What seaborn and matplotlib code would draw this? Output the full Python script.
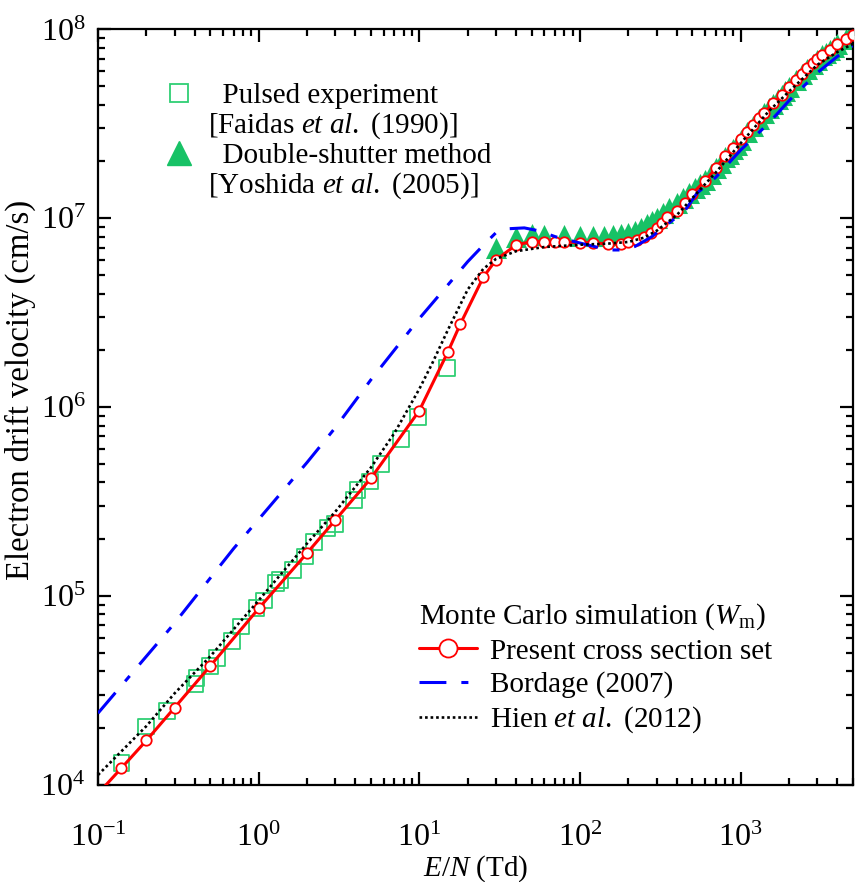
import matplotlib
matplotlib.use("Agg")
import matplotlib.pyplot as plt
import numpy as np
import pandas as pd
import seaborn as sns
from matplotlib.lines import Line2D
from matplotlib.ticker import LogLocator, LogFormatterMathtext, NullFormatter

# ---------------------------------------------------------------------------
# Electron drift velocity vs reduced field E/N
# ---------------------------------------------------------------------------

# Monte Carlo, present cross section set (red line with open circles)
present_en = [0.1, 0.14, 0.2, 0.3, 0.5, 1, 2, 3, 5, 10, 15, 18, 25, 30, 40, 50,
              60, 70, 80, 100, 120, 150, 180, 200, 225, 250, 275, 300, 325, 350,
              400, 450, 500, 600, 700, 800, 900, 1000, 1100, 1200, 1300, 1400,
              1600, 1800, 2000, 2200, 2400, 2600, 2800, 3000, 3200, 3600, 4000,
              4500, 5000]
present_w = [9.0e3, 1.23e4, 1.72e4, 2.57e4, 4.27e4, 8.6e4, 1.69e5, 2.53e5, 4.21e5,
             9.6e5, 1.95e6, 2.76e6, 4.88e6, 6.03e6, 7.23e6, 7.53e6, 7.53e6, 7.5e6,
             7.5e6, 7.43e6, 7.43e6, 7.31e6, 7.31e6, 7.46e6, 7.69e6, 7.95e6, 8.34e6,
             8.87e6, 9.5e6, 1.02e7, 1.10e7, 1.21e7, 1.35e7, 1.58e7, 1.84e7, 2.14e7,
             2.37e7, 2.62e7, 2.88e7, 3.12e7, 3.39e7, 3.63e7, 4.07e7, 4.50e7, 4.98e7,
             5.40e7, 5.81e7, 6.24e7, 6.63e7, 6.95e7, 7.33e7, 7.79e7, 8.38e7, 8.87e7,
             9.35e7]

# Monte Carlo, Bordage (2007) cross sections
bordage_en = [0.1, 0.3, 0.7, 1, 2, 3, 5, 10, 20, 25, 30, 35, 45, 55, 70, 100, 150,
              180, 220, 280, 350, 450, 535, 700, 1000, 1500, 2000, 3000, 4000, 5000]
bordage_w = [2.4e4, 7.2e4, 1.79e5, 2.55e5, 5.1e5, 7.8e5, 1.4e6, 2.95e6, 5.9e6,
             7.2e6, 8.4e6, 8.8e6, 8.9e6, 8.6e6, 8.0e6, 7.4e6, 6.8e6, 6.8e6, 7.1e6,
             8.0e6, 9.3e6, 1.1e7, 1.36e7, 1.65e7, 2.3e7, 3.2e7, 4.2e7, 5.9e7, 7.2e7,
             8.2e7]

# Monte Carlo, Hien et al. (2012) cross sections
hien_en = [0.1, 0.2, 0.3, 0.5, 1, 2, 3, 5, 7, 10, 12, 15, 20, 25, 30, 40, 60, 100,
           150, 200, 250, 300, 400, 500, 700, 1000, 1500, 2000, 3000, 4000, 5000]
hien_w = [1.13e4, 2.05e4, 3.06e4, 4.8e4, 9.5e4, 1.9e5, 2.8e5, 4.8e5, 7.3e5,
          1.25e6, 1.7e6, 2.55e6, 4.2e6, 5.4e6, 6.1e6, 6.7e6, 7.05e6, 7.25e6,
          7.35e6, 7.5e6, 7.9e6, 8.6e6, 1.04e7, 1.28e7, 1.75e7, 2.5e7, 3.7e7,
          4.7e7, 6.5e7, 7.6e7, 8.4e7]

# Pulsed experiment, Faidas et al. (1990)
faidas_en = [0.14, 0.2, 0.27, 0.4, 0.41, 0.5, 0.55, 0.68, 0.78, 0.97, 1.08, 1.28,
             1.35, 1.63, 1.95, 2.2, 2.68, 3.0, 3.93, 4.12, 4.92, 5.8, 7.66, 9.8,
             14.9]
faidas_w = [1.31e4, 2.04e4, 2.47e4, 3.43e4, 3.67e4, 4.26e4, 4.69e4, 5.8e4, 6.9e4,
            8.63e4, 9.47e4, 1.17e5, 1.22e5, 1.38e5, 1.62e5, 1.94e5, 2.29e5,
            2.41e5, 3.23e5, 3.65e5, 4.04e5, 5.0e5, 6.78e5, 8.86e5, 1.61e6]

# Double-shutter method, Yoshida et al. (2005)
yoshida_en = [30, 40, 50, 60, 80, 100, 120, 140, 160, 180, 200, 220, 240, 260, 280,
              300, 330, 360, 400, 440, 480, 520, 560, 600, 650, 700, 750, 800, 850,
              900, 950, 1000, 1100, 1200, 1300, 1400, 1500, 1600, 1700, 1800, 1900,
              2000, 2200, 2400, 2600, 2800, 3000, 3200, 3400, 3600, 3800, 4000,
              4500, 5000]
yoshida_w = [7.0e6, 8.0e6, 8.3e6, 8.2e6, 8.2e6, 8.1e6, 8.1e6, 8.1e6, 8.2e6, 8.3e6,
             8.4e6, 8.6e6, 8.9e6, 9.3e6, 9.7e6, 1.0e7, 1.07e7, 1.13e7, 1.2e7,
             1.28e7, 1.36e7, 1.44e7, 1.52e7, 1.60e7, 1.72e7, 1.84e7, 1.96e7,
             2.1e7, 2.2e7, 2.32e7, 2.45e7, 2.6e7, 2.85e7, 3.1e7, 3.35e7, 3.6e7,
             3.85e7, 4.05e7, 4.3e7, 4.5e7, 4.75e7, 4.95e7, 5.4e7, 5.8e7, 6.2e7,
             6.6e7, 6.9e7, 7.3e7, 7.5e7, 7.8e7, 8.1e7, 8.4e7, 8.9e7, 1.0e8]

present = pd.DataFrame({"E_N": present_en, "w": present_w})
bordage = pd.DataFrame({"E_N": bordage_en, "w": bordage_w})
hien = pd.DataFrame({"E_N": hien_en, "w": hien_w})
faidas = pd.DataFrame({"E_N": faidas_en, "w": faidas_w})
yoshida = pd.DataFrame({"E_N": yoshida_en, "w": yoshida_w})

# ---------------------------------------------------------------------------
sns.set_theme(style="ticks")
plt.rcParams.update({
    "font.family": ["Liberation Serif", "DejaVu Serif"],
    "mathtext.fontset": "custom",
    "mathtext.rm": "Liberation Serif",
    "mathtext.it": "Liberation Serif:italic",
    "mathtext.bf": "Liberation Serif:bold",
    "axes.unicode_minus": False,
    "font.size": 21,
    "text.color": "black",
    "axes.labelcolor": "black",
    "axes.edgecolor": "black",
    "xtick.color": "black",
    "ytick.color": "black",
    "legend.labelcolor": "black",
})

GREEN_SQ = "#2fcf74"
GREEN_TRI = "#17c266"
RED = "#ff0000"
BLUE = "#0000ff"
BORDAGE_DASH = (0, (8.8, 4.9, 2.3, 4.9))
HIEN_DOT = (0, (1.0, 1.1))

fig = plt.figure(figsize=(8.56, 8.82), dpi=100)
ax = fig.add_axes([0.1145, 0.110, 0.882, 0.8566])
ax.set_xscale("log")
ax.set_yscale("log")

sns.scatterplot(data=faidas, x="E_N", y="w", marker="s", s=130, ax=ax,
                color=GREEN_SQ, linewidth=1.3, zorder=2, legend=False)
ax.collections[-1].set_facecolor("none")
ax.collections[-1].set_edgecolor(GREEN_SQ)

sns.scatterplot(data=yoshida, x="E_N", y="w", marker="^", s=230, ax=ax,
                color=GREEN_TRI, linewidth=0, zorder=2.2, legend=False)

sns.lineplot(data=present, x="E_N", y="w", ax=ax, color=RED, lw=2.2,
             marker="o", markersize=7.5, markerfacecolor="white",
             markeredgecolor=RED, markeredgewidth=1.3, zorder=3, legend=False)

sns.lineplot(data=bordage, x="E_N", y="w", ax=ax, color=BLUE, lw=2.2,
             zorder=3.5, legend=False)
ax.lines[-1].set_linestyle(BORDAGE_DASH)

sns.lineplot(data=hien, x="E_N", y="w", ax=ax, color="black", lw=1.9,
             zorder=4, legend=False)
ax.lines[-1].set_linestyle(HIEN_DOT)

ax.set_xlim(0.1, 5000)
ax.set_ylim(1e4, 1e8)

# axes frame and ticks
for sp in ax.spines.values():
    sp.set_linewidth(1.6)
    sp.set_color("black")
    sp.set_visible(True)
ax.xaxis.set_major_locator(LogLocator(base=10, numticks=20))
ax.yaxis.set_major_locator(LogLocator(base=10, numticks=20))
ax.xaxis.set_minor_locator(LogLocator(base=10, subs=np.arange(2, 10), numticks=50))
ax.yaxis.set_minor_locator(LogLocator(base=10, subs=np.arange(2, 10), numticks=50))
ax.xaxis.set_major_formatter(LogFormatterMathtext())
ax.yaxis.set_major_formatter(LogFormatterMathtext())
ax.xaxis.set_minor_formatter(NullFormatter())
ax.yaxis.set_minor_formatter(NullFormatter())
ax.tick_params(which="both", direction="in", top=True, right=True,
               width=1.6, color="black", labelcolor="black", labelsize=23)
ax.tick_params(which="major", length=9.5)
ax.tick_params(which="minor", length=5)
ax.tick_params(axis="x", which="major", pad=28)
ax.tick_params(axis="y", which="major", pad=9)

ax.set_xlabel(r"$\mathit{E/N}$ (Td)", fontsize=21, labelpad=0, color="black")
ax.set_ylabel("Electron drift velocity (cm/s)", fontsize=23.5, color="black")
ax.yaxis.set_label_coords(-0.082, 0.523)

# experimental data key (upper left)
blank = Line2D([], [], linestyle="none")
exp_handles = [
    Line2D([], [], linestyle="none", marker="s", markersize=13,
           markerfacecolor="none", markeredgecolor=GREEN_SQ, markeredgewidth=1.3),
    blank,
    Line2D([], [], linestyle="none", marker="^", markersize=17,
           markerfacecolor=GREEN_TRI, markeredgecolor=GREEN_TRI),
    blank,
]
exp_labels = [
    "  Pulsed experiment",
    r"[Faidas $\mathit{et\ al.}$ (1990)]",
    "  Double-shutter method",
    r"[Yoshida $\mathit{et\ al.}$ (2005)]",
]
leg1 = ax.legend(exp_handles, exp_labels, loc="upper left",
                 bbox_to_anchor=(0.088, 0.93), frameon=False, fontsize=21,
                 handlelength=1.0, handletextpad=0.5, labelspacing=0.05,
                 borderpad=0, borderaxespad=0)
ax.add_artist(leg1)

# simulation key (lower right)
sim_handles = [
    Line2D([], [], color=RED, lw=2.2, marker="o", markersize=13,
           markerfacecolor="white", markeredgecolor=RED, markeredgewidth=1.3),
    Line2D([], [], color=BLUE, lw=2.2, linestyle=BORDAGE_DASH),
    Line2D([], [], color="black", lw=1.9, linestyle=HIEN_DOT),
]
sim_labels = ["Present cross section set", "Bordage (2007)",
              r"Hien $\mathit{et\ al.}$ (2012)"]
leg2 = ax.legend(sim_handles, sim_labels, loc="lower left",
                 bbox_to_anchor=(0.425, 0.066), frameon=False, fontsize=21,
                 handlelength=2.0, handletextpad=0.45, labelspacing=0.22,
                 borderpad=0, borderaxespad=0,
                 title=r"Monte Carlo simulation ($\mathit{W}_{\mathrm{m}}$)",
                 title_fontsize=21, alignment="left")

fig.savefig("out.png", dpi=100, facecolor="white")
